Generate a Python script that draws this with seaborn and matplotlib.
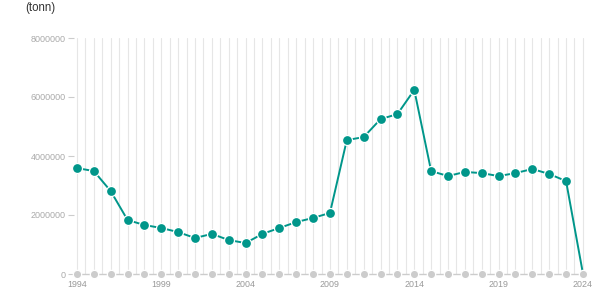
import numpy as np
import pandas as pd
import matplotlib
matplotlib.use("Agg")
import matplotlib.pyplot as plt
import seaborn as sns

years = list(range(1994, 2025))
values = [3590000, 3490000, 2810000, 1830000, 1660000, 1560000, 1420000, 1220000,
          1360000, 1150000, 1050000, 1360000, 1560000, 1760000, 1900000, 2070000,
          4540000, 4640000, 5250000, 5420000, 6240000, 3490000, 3320000, 3460000,
          3420000, 3320000, 3420000, 3560000, 3390000, 3150000, 20000]
baseline = [0] * len(years)
xtick_years = [1994, 1999, 2004, 2009, 2014, 2019, 2024]
ytick_vals = [0, 2000000, 4000000, 6000000, 8000000]

df = pd.DataFrame({"year": years, "value": values, "base": baseline})

sns.set_theme(style="white")
plt.rcParams['font.family'] = ['Liberation Sans', 'DejaVu Sans']

fig = plt.figure(figsize=(6.15, 3.05), dpi=100)
ax = fig.add_axes([73.6 / 615, 1 - 274 / 305, 512.7 / 615, (274 - 38) / 305])

teal = '#00968a'
for i, x in enumerate(np.arange(1994, 2024.01, 0.5)):
    ax.axvline(x, color='#e6e6e6', lw=0.8, zorder=0)

sns.lineplot(data=df.iloc[:-1], x="year", y="value", ax=ax, color=teal, lw=1.4,
             marker='o', markersize=7.2, markeredgecolor='white', markeredgewidth=0.9,
             clip_on=False, zorder=3)
sns.lineplot(data=df.iloc[-2:], x="year", y="value", ax=ax, color=teal, lw=1.4,
             clip_on=False, zorder=3)
sns.lineplot(data=df, x="year", y="base", ax=ax, color='#cccccc', lw=1.0,
             marker='o', markersize=6, markeredgecolor='white', markeredgewidth=0.9,
             clip_on=False, zorder=4)

ax.set_xlim(1993.8, 2024.2)
ax.set_ylim(0, 8000000)
ax.set_xticks(xtick_years)
ax.set_xticklabels([str(y) for y in xtick_years])
ax.set_yticks(ytick_vals)
ax.set_yticklabels([str(v) for v in ytick_vals])
ax.set_xlabel("")
ax.set_ylabel("")
for s in ax.spines.values():
    s.set_visible(False)
ax.tick_params(axis='x', length=0, pad=4, labelsize=6.4, labelcolor='#999999')
ax.tick_params(axis='y', length=4, width=0.8, color='#cccccc', pad=1.5,
               labelsize=6.5, labelcolor='#aaaaaa', left=True)
ax.grid(False)
if ax.get_legend():
    ax.get_legend().remove()

fig.text(25 / 615, 1 - 8 / 305, "(tonn)", fontsize=8.3, color='#333333',
         ha='left', va='center')

fig.savefig("out.png", dpi=100)
